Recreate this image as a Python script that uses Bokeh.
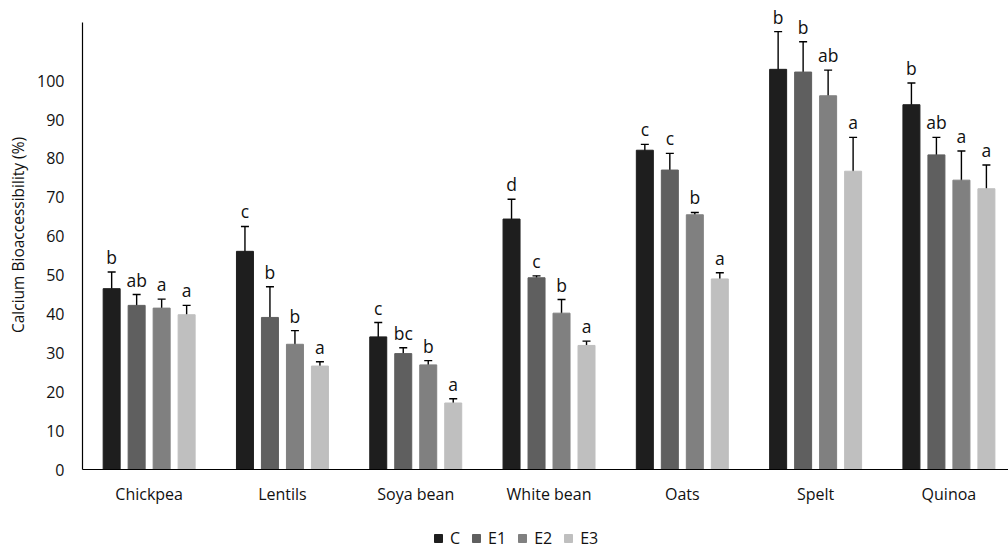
from bokeh.plotting import figure
from bokeh.layouts import column
from bokeh.models import (ColumnDataSource, Range1d, Whisker, TeeHead,
                          Legend, LegendItem, FixedTicker)
from bokeh.core.properties import value
from bokeh.embed import file_html
from bokeh.resources import INLINE

categories = ["Chickpea", "Lentils", "Soya bean", "White bean", "Oats", "Spelt", "Quinoa"]
series_names = ["C", "E1", "E2", "E3"]

C_vals = [46.5, 56.1, 34.1, 64.4, 82.1, 102.9, 93.8]
E1_vals = [42.2, 39.1, 29.8, 49.3, 77.0, 102.2, 80.9]
E2_vals = [41.5, 32.2, 26.9, 40.2, 65.5, 96.1, 74.4]
E3_vals = [39.8, 26.6, 17.1, 31.9, 49.0, 76.7, 72.2]

C_err = [4.3, 6.4, 3.7, 5.1, 1.5, 9.7, 5.6]
E1_err = [2.8, 7.9, 1.5, 0.5, 4.3, 7.8, 4.5]
E2_err = [2.3, 3.5, 1.1, 3.5, 0.6, 6.6, 7.5]
E3_err = [2.4, 1.1, 1.1, 1.1, 1.6, 8.7, 6.1]

C_letters = ["b", "c", "c", "d", "c", "b", "b"]
E1_letters = ["ab", "b", "bc", "c", "c", "b", "ab"]
E2_letters = ["a", "b", "b", "b", "b", "ab", "a"]
E3_letters = ["a", "a", "a", "a", "a", "a", "a"]

y_ticks = [0, 10, 20, 30, 40, 50, 60, 70, 80, 90, 100]

colors = ["#1e1e1e", "#5f5f5f", "#808080", "#bfbfbf"]
FONT = "Open Sans"
TXT = "#111111"

values = [C_vals, E1_vals, E2_vals, E3_vals]
errs = [C_err, E1_err, E2_err, E3_err]
letters = [C_letters, E1_letters, E2_letters, E3_letters]

W = 1008
n = len(categories)
centers = [k + 0.5 for k in range(n)]
# the original plot area runs slightly past the right edge of the image
p = figure(x_range=Range1d(0, 6.947), y_range=Range1d(0, 120.6),
           width=W, height=520, output_backend="svg", toolbar_location=None)
p.min_border_left = 82
p.min_border_right = 0
p.min_border_top = 0
p.min_border_bottom = 51
p.outline_line_color = None
p.xgrid.visible = False
p.ygrid.visible = False

step = 0.1875
bar_w = 0.1275
for i, name in enumerate(series_names):
    off = (i - 1.5) * step
    vals = values[i]
    er = errs[i]
    src = ColumnDataSource(dict(
        x=[c + off for c in centers], top=vals,
        upper=[v + e for v, e in zip(vals, er)],
        lower=[v - e for v, e in zip(vals, er)],
        letter=letters[i]))
    p.vbar(x="x", top="top", width=bar_w,
           source=src, fill_color=colors[i], line_color=colors[i])
    w = Whisker(base="x", upper="upper", lower="lower",
                source=src, line_color="black", line_width=1.4,
                upper_head=TeeHead(size=8, line_color="black", line_width=1.4),
                lower_head=TeeHead(size=8, line_color="black", line_width=1.4))
    p.add_layout(w)
    p.text(x="x", y="upper", text="letter", source=src,
           text_align="center", text_baseline="bottom", y_offset=-3,
           text_font=value(FONT), text_font_size="17.5px", text_color=TXT)

# axes
p.yaxis.ticker = FixedTicker(ticks=y_ticks)
p.yaxis.bounds = (0, 115)
p.yaxis.axis_label = "Calcium Bioaccessibility (%)"
p.yaxis.axis_label_text_font = FONT
p.yaxis.axis_label_text_font_style = "normal"
p.yaxis.axis_label_text_font_size = "15.5px"
p.yaxis.axis_label_text_color = TXT
p.yaxis.major_label_text_font = FONT
p.yaxis.major_label_text_font_size = "16px"
p.yaxis.major_label_text_color = TXT
p.yaxis.major_tick_line_color = None
p.yaxis.minor_tick_line_color = None
p.yaxis.axis_line_color = "black"
p.yaxis.axis_line_width = 1.2
p.yaxis.major_label_standoff = 12

p.xaxis.ticker = FixedTicker(ticks=centers)
p.xaxis.major_label_overrides = {c: cat for c, cat in zip(centers, categories)}
p.xaxis.major_label_text_font = FONT
p.xaxis.major_label_text_font_size = "16px"
p.xaxis.major_label_text_color = TXT
p.xaxis.major_tick_line_color = None
p.xaxis.minor_tick_line_color = None
p.xaxis.axis_line_color = "black"
p.xaxis.axis_line_width = 1.2
p.xaxis.major_label_standoff = 7

# legend strip below the chart
lg = figure(width=W, height=29, x_range=Range1d(0, 1), y_range=Range1d(0, 1),
            x_axis_location=None, y_axis_location=None,
            output_backend="svg", toolbar_location=None)
lg.min_border_left = 0
lg.min_border_right = 0
lg.min_border_top = 0
lg.min_border_bottom = 0
lg.grid.visible = False
lg.outline_line_color = None
items = []
for i, name in enumerate(series_names):
    r = lg.vbar(x=[0], top=[0], width=0.1, fill_color=colors[i], line_color=colors[i],
                visible=False)
    items.append(LegendItem(label=name, renderers=[r]))
legend = Legend(items=items, orientation="horizontal", location=(351, 0),
                label_text_font=FONT, label_text_font_size="16px", label_text_color=TXT,
                glyph_width=10, glyph_height=10, spacing=11, label_standoff=7,
                label_width=0, border_line_color=None, background_fill_alpha=0,
                margin=0, padding=2, label_height=18, inactive_fill_alpha=0)
lg.add_layout(legend)

layout = column(p, lg, spacing=0)
open("out.html", "w").write(file_html(layout, INLINE))
